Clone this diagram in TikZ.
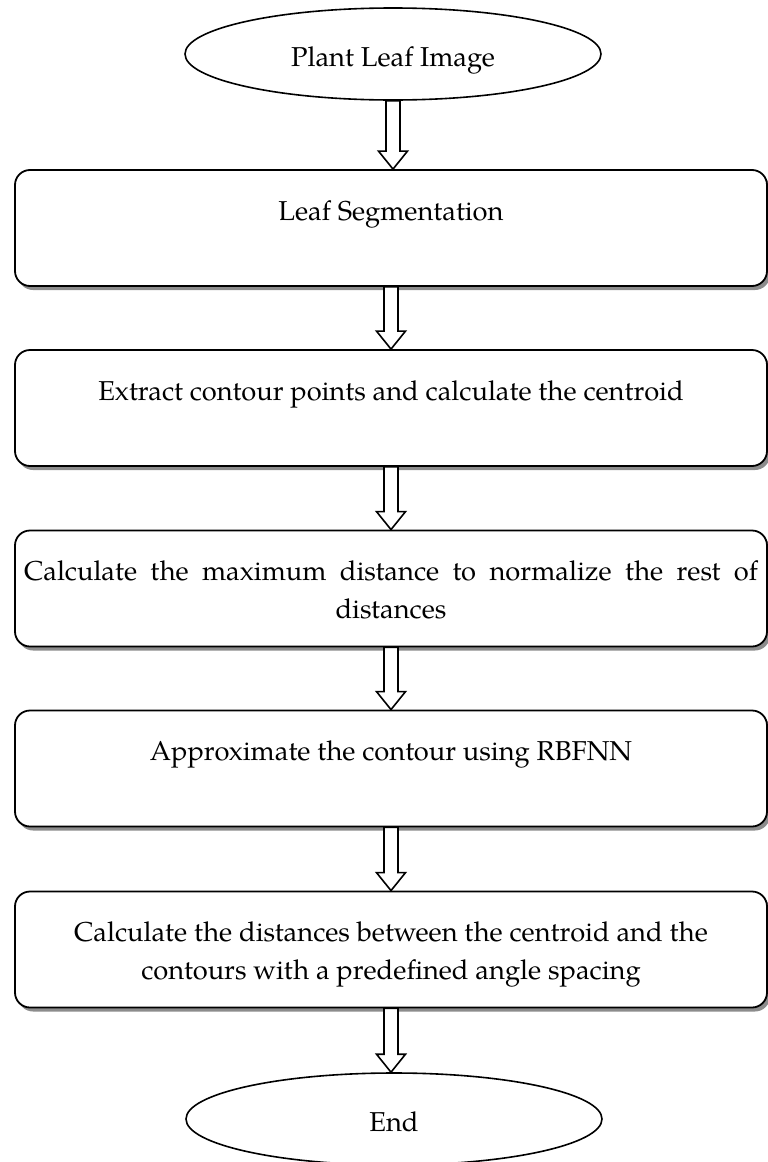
\documentclass[tikz,border=0pt]{standalone}
\usepackage{fontspec}
\setmainfont{texgyrepagella}[Extension=.otf, UprightFont=*-regular, BoldFont=*-bold, ItalicFont=*-italic, BoldItalicFont=*-bolditalic]
\usetikzlibrary{shapes.geometric,shadows,calc}
\tikzset{
  x=1pt, y=1pt,
  txt/.style={font=\fontsize{27.3}{38}\selectfont, align=center, inner sep=0pt, anchor=base},
  term/.style={draw, ellipse, line width=1.6pt, minimum width=416pt, minimum height=92pt, inner sep=0pt, fill=white},
  stepbox/.style={draw, rounded corners=15pt, line width=1.8pt, minimum width=752pt, minimum height=116pt, inner sep=0pt, fill=white,
    drop shadow={shadow xshift=3pt, shadow yshift=-4pt, fill=black!45, opacity=1}},
  harrow/.style={draw, line width=1.6pt, fill=white, line join=miter}
}
\newcommand\hollowarrow[2]{%
  \draw[harrow] let \p1=(#1.south), \p2=(#2.north) in
    (\x1-7pt,\y1) -- (\x1-7pt,\y2+18pt) -- (\x1-14.5pt,\y2+18pt) -- (\x1,\y2)
    -- (\x1+14.5pt,\y2+18pt) -- (\x1+7pt,\y2+18pt) -- (\x1+7pt,\y1) -- cycle;}
\begin{document}
\begin{tikzpicture}
\useasboundingbox (0,0) rectangle (768,-1162);
\node[term] (start) at (393,-54) {};
\node[txt] (starttxt) at ($(start.center)+(0,-12)$) {Plant Leaf Image};

\node[stepbox] (b1) at (391,-228) {};
\node[stepbox] (b2) at (391,-408) {};
\node[stepbox] (b3) at (391,-588.5) {};
\node[stepbox] (b4) at (391,-768.5) {};
\node[stepbox] (b5) at (391,-949.5) {};

\node[term] (end) at (394,-1119) {};
\node[txt] (endtxt) at ($(end.center)+(0,-12)$) {End};

\node[txt] (t1) at ($(b1.north)+(0,-51)$) {Leaf Segmentation};
\node[txt] (t2) at ($(b2.north)+(0,-51)$) {Extract contour points and calculate the centroid};
\node[txt] (t3) at ($(b3.north)+(0,-89)$) {\hbox to 734pt{Calculate\hfil the\hfil maximum\hfil distance\hfil to\hfil normalize\hfil the\hfil rest\hfil of}\\distances};
\node[txt] (t4) at ($(b4.north)+(0,-51)$) {Approximate the contour using RBFNN};
\node[txt] (t5) at ($(b5.north)+(0,-89)$) {Calculate the distances between the centroid and the\\contours with a predefined angle spacing};

\hollowarrow{start}{b1}
\hollowarrow{b1}{b2}
\hollowarrow{b2}{b3}
\hollowarrow{b3}{b4}
\hollowarrow{b4}{b5}
\hollowarrow{b5}{end}
\end{tikzpicture}
\end{document}
